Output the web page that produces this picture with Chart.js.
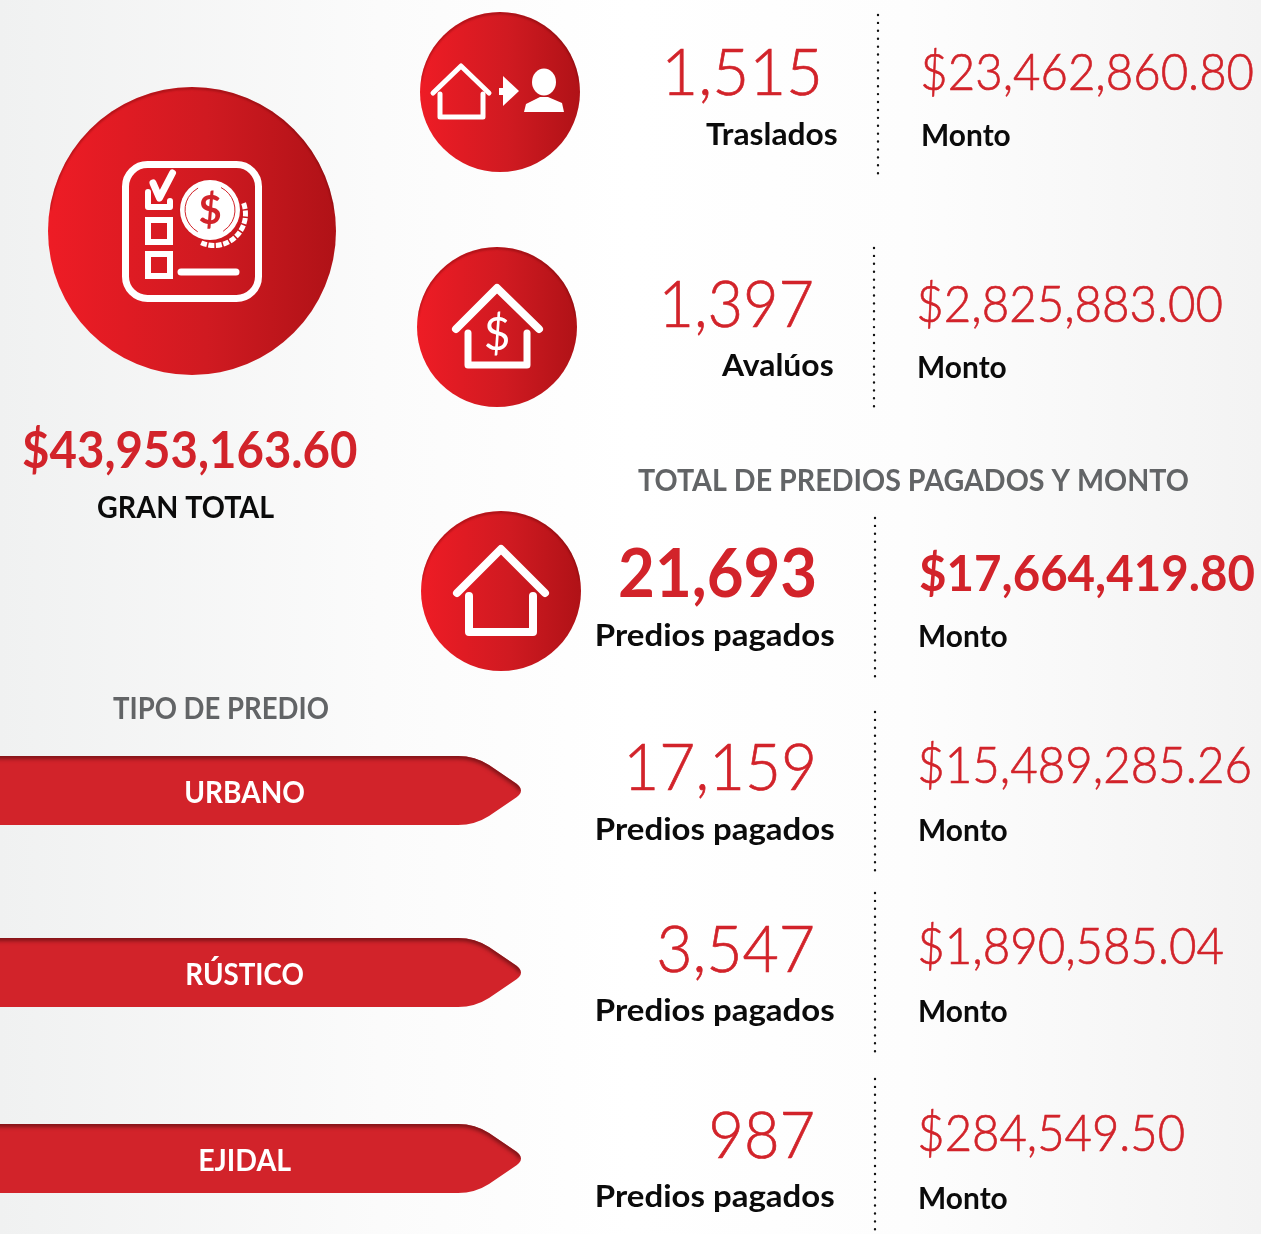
<!DOCTYPE html>
<html>
<head>
<meta charset="utf-8">
<title>Predios pagados y monto</title>
<script src="https://cdn.jsdelivr.net/npm/chart.js@4"></script>
<style>
  html, body { margin: 0; padding: 0; background: #fff; }
  canvas { display: block; }
</style>
</head>
<body>
<canvas id="infografia" width="1261" height="1234"></canvas>
<script>
// values
const granTotal = 43953163.60;
const tramites = ['Traslados', 'Avalúos'];
const tramiteCantidad = [1515, 1397];
const tramiteMonto = [23462860.80, 2825883.00];
const prediosTotal = 21693;
const prediosTotalMonto = 17664419.80;
const tipos = ['URBANO', 'RÚSTICO', 'EJIDAL'];
const tipoCantidad = [17159, 3547, 987];
const tipoMonto = [15489285.26, 1890585.04, 284549.50];

const RED = '#d2232a';
const BLACK = '#0b0b0b';
const GRAY = '#626466';
const LIGHT = '300 60px Lato';
const BOLD = '700 60px Lato';

const cantidad = n => n.toLocaleString('en-US');
const dinero = n => '$' + n.toLocaleString('en-US', { minimumFractionDigits: 2, maximumFractionDigits: 2 });

// page layout, not data: x, baseline, width, font px
const textos = [
  [dinero(granTotal), 23, 468, 334, 51, BOLD, RED],
  ['GRAN TOTAL', 98, 518, 176, 31, BOLD, BLACK],

  [cantidad(tramiteCantidad[0]), 667, 95, 151, 66, LIGHT, RED],
  [dinero(tramiteMonto[0]), 923, 90, 330, 52, LIGHT, RED],
  [tramites[0], 706, 145, 131, 31, BOLD, BLACK],
  ['Monto', 923, 146, 87, 31, BOLD, BLACK],

  [cantidad(tramiteCantidad[1]), 664, 327, 148, 66, LIGHT, RED],
  [dinero(tramiteMonto[1]), 919, 322, 303, 52, LIGHT, RED],
  [tramites[1], 721, 376, 112, 31, BOLD, BLACK],
  ['Monto', 919, 378, 87, 31, BOLD, BLACK],

  ['TOTAL DE PREDIOS PAGADOS Y MONTO', 638, 491, 550, 31, BOLD, GRAY],
  [cantidad(prediosTotal), 620, 597, 195, 66, BOLD, RED],
  [dinero(prediosTotalMonto), 920, 591, 334, 50, BOLD, RED],
  ['Predios pagados', 597, 646, 237, 31, BOLD, BLACK],
  ['Monto', 920, 647, 87, 31, BOLD, BLACK],

  ['TIPO DE PREDIO', 113, 719, 215, 31, BOLD, GRAY],
  [tipos[0], 186, 803, 118, 31, BOLD, '#fff'],
  [tipos[1], 187, 985, 116, 31, BOLD, '#fff'],
  [tipos[2], 200, 1171, 91, 31, BOLD, '#fff'],

  [cantidad(tipoCantidad[0]), 629, 790, 184, 66, LIGHT, RED],
  [dinero(tipoMonto[0]), 920, 783, 330, 52, LIGHT, RED],
  ['Predios pagados', 597, 840, 237, 31, BOLD, BLACK],
  ['Monto', 920, 841, 87, 31, BOLD, BLACK],

  [cantidad(tipoCantidad[1]), 659, 972, 154, 66, LIGHT, RED],
  [dinero(tipoMonto[1]), 920, 964, 303, 52, LIGHT, RED],
  ['Predios pagados', 597, 1021, 237, 31, BOLD, BLACK],
  ['Monto', 920, 1022, 87, 31, BOLD, BLACK],

  [cantidad(tipoCantidad[2]), 712, 1158, 101, 66, LIGHT, RED],
  [dinero(tipoMonto[2]), 920, 1151, 264, 52, LIGHT, RED],
  ['Predios pagados', 597, 1207, 237, 31, BOLD, BLACK],
  ['Monto', 920, 1209, 87, 31, BOLD, BLACK]
];

const circulos = [
  { x: 192, y: 231, r: 144 },
  { x: 500, y: 92, r: 80 },
  { x: 497, y: 327, r: 80 },
  { x: 501, y: 591, r: 80 }
];
const separadores = [
  [878, 15, 175], [874, 248, 407], [875, 518, 677],
  [875, 712, 871], [875, 893, 1052], [875, 1079, 1231]
];
const cintas = [756, 938, 1124];

function linea(c, pts, ancho) {
  c.lineWidth = ancho;
  c.beginPath();
  pts.forEach((p, i) => i ? c.lineTo(p[0], p[1]) : c.moveTo(p[0], p[1]));
  c.stroke();
}

function poligono(c, pts) {
  c.beginPath();
  pts.forEach((p, i) => i ? c.lineTo(p[0], p[1]) : c.moveTo(p[0], p[1]));
  c.closePath();
  c.fill();
}

function cinta(c, y) {
  c.beginPath();
  c.moveTo(-10, y);
  c.lineTo(458, y);
  c.quadraticCurveTo(475, y, 489, y + 9);
  c.lineTo(514, y + 26);
  c.quadraticCurveTo(528, y + 34.5, 514, y + 43);
  c.lineTo(489, y + 60);
  c.quadraticCurveTo(475, y + 69, 458, y + 69);
  c.lineTo(-10, y + 69);
  c.closePath();
}

function dibujaIconos(c) {
  c.save();
  c.strokeStyle = '#fff';
  c.fillStyle = '#fff';
  c.lineCap = 'round';
  c.lineJoin = 'round';

  // lista con moneda
  c.beginPath();
  c.roundRect(125.5, 164.5, 133, 134, 22);
  c.lineWidth = 7;
  c.stroke();
  linea(c, [[148, 192], [148, 207], [170, 207], [170, 201]], 6);
  linea(c, [[153, 183], [159.5, 198], [172.5, 173]], 7);
  c.lineJoin = 'miter';
  c.lineWidth = 6;
  c.strokeRect(148, 220, 22, 22);
  c.strokeRect(148, 254, 22, 22);
  c.lineJoin = 'round';
  linea(c, [[181, 272], [236, 272]], 7);
  c.save();
  c.lineCap = 'butt';
  c.setLineDash([6, 1.5]);
  c.lineWidth = 5;
  c.beginPath();
  c.arc(214, 214, 31.5, -0.35, 2.0);
  c.stroke();
  c.restore();
  c.beginPath();
  c.arc(210, 210, 31.5, 0, Math.PI * 2);
  c.fillStyle = '#cf1a21';
  c.fill();
  c.fillStyle = '#fff';
  c.beginPath();
  c.arc(210, 210, 30, 0, Math.PI * 2);
  c.fill();
  c.strokeStyle = '#d2232a';
  c.lineWidth = 1;
  c.beginPath();
  c.arc(210, 210, 25, -1.1, 1.0);
  c.stroke();
  c.beginPath();
  c.arc(210, 210, 25, 2.1, 4.2);
  c.stroke();
  c.fillStyle = '#d2232a';
  c.font = '700 40px Lato';
  c.textAlign = 'center';
  c.fillText('$', 210, 224);

  // casa, flecha y persona
  c.strokeStyle = '#fff';
  c.fillStyle = '#fff';
  linea(c, [[433, 93], [461, 66], [489, 93]], 5);
  linea(c, [[440, 94], [440, 117], [483, 117], [483, 94]], 5);
  c.fillRect(499, 88, 5, 7);
  poligono(c, [[503, 76], [519, 91], [503, 106]]);
  c.beginPath();
  c.ellipse(544, 82, 12, 13.5, 0, 0, Math.PI * 2);
  c.fill();
  poligono(c, [[524, 112], [526, 104], [540, 97], [548, 97], [562, 103], [564, 112]]);

  // casa con signo de pesos
  linea(c, [[456, 329], [497, 288], [539, 329]], 8);
  linea(c, [[468, 333], [468, 365], [527, 365], [527, 333]], 7);
  c.font = '400 46px Lato';
  c.fillText('$', 497, 350);

  // casa
  linea(c, [[457, 593], [501, 549], [545, 593]], 8);
  linea(c, [[469, 596], [469, 632], [533, 632], [533, 596]], 8);
  c.restore();
}

const infografia = {
  id: 'infografia',
  beforeDraw(chart) {
    const c = chart.ctx;
    const fondo = c.createLinearGradient(0, 0, chart.width, 0);
    fondo.addColorStop(0, '#f0f1f1');
    fondo.addColorStop(0.3, '#fbfbfb');
    fondo.addColorStop(0.5, '#ffffff');
    fondo.addColorStop(0.72, '#fdfdfd');
    fondo.addColorStop(1, '#f3f3f3');
    c.fillStyle = fondo;
    c.fillRect(0, 0, chart.width, chart.height);
  },
  afterDatasetsDraw(chart) {
    const c = chart.ctx;

    // sombra interior de los circulos, solo arriba
    circulos.forEach(o => {
      c.save();
      c.beginPath();
      c.arc(o.x, o.y, o.r, 0, Math.PI * 2);
      c.clip();
      c.filter = 'blur(1px)';
      c.strokeStyle = 'rgba(70,0,0,0.4)';
      c.lineWidth = 2;
      c.beginPath();
      c.arc(o.x, o.y + 1.5, o.r + 0.5, Math.PI * 1.05, Math.PI * 1.95);
      c.stroke();
      c.restore();
    });

    cintas.forEach(y => {
      c.save();
      cinta(c, y);
      c.fillStyle = '#d2232a';
      c.fill();
      c.clip();
      c.filter = 'blur(2px)';
      c.strokeStyle = '#6e1114';
      c.lineWidth = 5;
      c.beginPath();
      c.moveTo(-10, y);
      c.lineTo(458, y);
      c.quadraticCurveTo(475, y, 489, y + 9);
      c.lineTo(514, y + 26);
      c.quadraticCurveTo(520, y + 30, 521, y + 34);
      c.stroke();
      c.restore();
    });

    dibujaIconos(c);

    textos.forEach(([txt, x, base, ancho, px, fuente, color]) => {
      c.save();
      c.font = fuente.replace('60px', px + 'px');
      c.fillStyle = color;
      c.textAlign = 'left';
      c.textBaseline = 'alphabetic';
      const m = c.measureText(txt);
      const k = ancho / (m.actualBoundingBoxLeft + m.actualBoundingBoxRight);
      c.translate(x + m.actualBoundingBoxLeft * k, base);
      c.scale(k, 1);
      c.fillText(txt, 0, 0);
      // Lato light is a bit thinner than the original face
      if (fuente === LIGHT) {
        c.strokeStyle = color;
        c.lineWidth = 0.7;
        c.strokeText(txt, 0, 0);
      }
      c.restore();
    });
  }
};

function degradado(context) {
  const chart = context.chart;
  const o = circulos[context.dataIndex];
  if (!o) return RED;
  const g = chart.ctx.createLinearGradient(o.x - o.r, 0, o.x + o.r, 0);
  g.addColorStop(0, '#ee1c25');
  g.addColorStop(0.55, '#d01a21');
  g.addColorStop(1, '#b01217');
  return g;
}

const conjuntos = [{
  type: 'bubble',
  data: circulos,
  backgroundColor: degradado,
  borderWidth: 0,
  clip: false
}];
separadores.forEach(s => {
  conjuntos.push({
    type: 'line',
    data: [{ x: s[0], y: s[1] }, { x: s[0], y: s[2] }],
    borderColor: '#111',
    borderWidth: 2.4,
    borderDash: [0.01, 7.9],
    borderCapStyle: 'round',
    pointRadius: 0
  });
});

new Chart(document.getElementById('infografia'), {
  data: { datasets: conjuntos },
  plugins: [infografia],
  options: {
    responsive: false,
    animation: false,
    events: [],
    layout: { padding: 0, autoPadding: false },
    scales: {
      x: { type: 'linear', min: 0, max: 1261, display: false },
      y: { type: 'linear', min: 0, max: 1234, reverse: true, display: false }
    },
    plugins: { legend: { display: false }, tooltip: { enabled: false } }
  }
});
</script>
</body>
</html>
